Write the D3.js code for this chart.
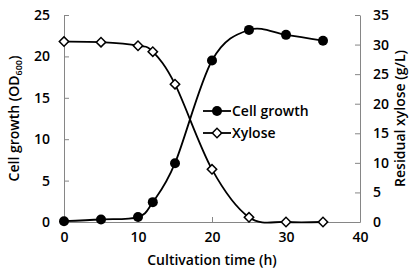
<!DOCTYPE html>
<html><head><meta charset="utf-8">
<script src="https://cdn.jsdelivr.net/npm/d3@7"></script>
<style>body{margin:0;background:#fff}svg{display:block}text{font-family:"Open Sans",Lato,sans-serif;font-weight:600;fill:#000}</style>
</head><body>
<script>
const times = [0, 5, 10, 12, 15, 20, 25, 30, 35];
const cellGrowth = [0.1, 0.3, 0.6, 2.4, 7.1, 19.5, 23.2, 22.6, 21.9];
const xylose = [30.5, 30.4, 29.8, 28.8, 23.3, 8.9, 0.8, 0, 0];
const xTicks = [0, 10, 20, 30, 40];
const yLeftTicks = [0, 5, 10, 15, 20, 25];
const yRightTicks = [0, 5, 10, 15, 20, 25, 30, 35];

const W = 418, H = 278;
const m = {l: 64, r: 58, t: 15, b: 56};
const FS = 14;
const svg = d3.select("body").append("svg").attr("width", W).attr("height", H);
const x = d3.scaleLinear().domain([0, 40]).range([m.l, W - m.r]);
const yL = d3.scaleLinear().domain([0, 25]).range([H - m.b, m.t]);
const yR = d3.scaleLinear().domain([0, 35]).range([H - m.b, m.t]);
const axisColor = "#868686";

function styleAxis(g) {
  g.selectAll("path,line").attr("stroke", axisColor).attr("stroke-width", 1);
  g.selectAll("text").attr("font-size", FS).attr("fill", "#000");
}
const gx = svg.append("g").attr("transform", `translate(0,${H - m.b})`)
  .call(d3.axisBottom(x).tickValues(xTicks).tickSizeInner(-5).tickSizeOuter(0).tickPadding(10));
styleAxis(gx);
const gl = svg.append("g").attr("transform", `translate(${m.l},0)`)
  .call(d3.axisLeft(yL).tickValues(yLeftTicks).tickSizeInner(-5).tickSizeOuter(0).tickPadding(14));
styleAxis(gl);
const gr = svg.append("g").attr("transform", `translate(${W - m.r},0)`)
  .call(d3.axisRight(yR).tickValues(yRightTicks).tickSizeInner(-5).tickSizeOuter(0).tickPadding(13));
styleAxis(gr);

const curve = d3.curveCardinal.tension(0);
const lineL = d3.line().x((d, i) => x(times[i])).y(d => yL(d)).curve(curve);
const lineR = d3.line().x((d, i) => x(times[i])).y(d => yR(d)).curve(curve);
svg.append("path").attr("d", lineL(cellGrowth)).attr("fill", "none").attr("stroke", "#000").attr("stroke-width", 1.8);
svg.append("path").attr("d", lineR(xylose)).attr("fill", "none").attr("stroke", "#000").attr("stroke-width", 1.8);

svg.selectAll(".xy").data(xylose).enter().append("path")
  .attr("d", d3.symbol().type(d3.symbolSquare).size(44))
  .attr("transform", (d, i) => `translate(${x(times[i])},${yR(d)}) rotate(45)`)
  .attr("fill", "#fff").attr("stroke", "#000").attr("stroke-width", 1.5);
svg.selectAll(".cg").data(cellGrowth).enter().append("circle")
  .attr("cx", (d, i) => x(times[i])).attr("cy", d => yL(d)).attr("r", 5).attr("fill", "#000");

// legend
const lg = svg.append("g");
lg.append("line").attr("x1", 203).attr("x2", 231).attr("y1", 111).attr("y2", 111).attr("stroke", "#000").attr("stroke-width", 1.8);
lg.append("circle").attr("cx", 217).attr("cy", 111).attr("r", 5).attr("fill", "#000");
lg.append("text").attr("x", 232).attr("y", 116).attr("font-size", FS).text("Cell growth");
lg.append("line").attr("x1", 203).attr("x2", 231).attr("y1", 133).attr("y2", 133).attr("stroke", "#000").attr("stroke-width", 1.8);
lg.append("path").attr("d", d3.symbol().type(d3.symbolSquare).size(44)).attr("transform", "translate(217,133) rotate(45)")
  .attr("fill", "#fff").attr("stroke", "#000").attr("stroke-width", 1.5);
lg.append("text").attr("x", 232).attr("y", 138).attr("font-size", FS).text("Xylose");

// titles
svg.append("text").attr("x", x(20)).attr("y", 265).attr("text-anchor", "middle").attr("font-size", FS).text("Cultivation time (h)");
const lt = svg.append("text").attr("transform", `translate(19,${(m.t + H - m.b) / 2}) rotate(-90)`).attr("text-anchor", "middle").attr("font-size", FS);
lt.append("tspan").text("Cell growth (OD");
lt.append("tspan").attr("font-size", 9).attr("dy", 3).text("600");
lt.append("tspan").attr("dy", -3).text(")");
svg.append("text").attr("transform", `translate(405,${(m.t + H - m.b) / 2}) rotate(-90)`).attr("text-anchor", "middle").attr("font-size", FS).text("Residual xylose (g/L)");
</script>
</body></html>
